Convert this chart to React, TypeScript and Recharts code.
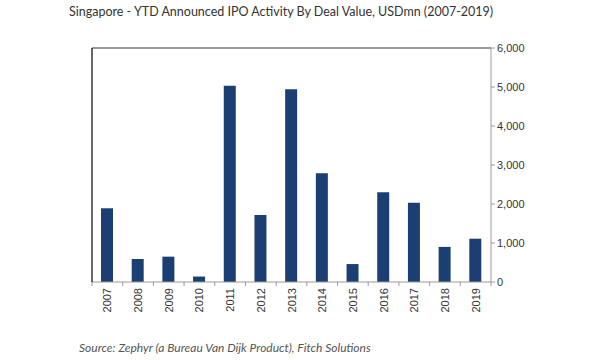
import React from "react";
import { BarChart, Bar, XAxis, YAxis, ReferenceLine } from "recharts";

const years = ["2007","2008","2009","2010","2011","2012","2013","2014","2015","2016","2017","2018","2019"];
const dealValues = [1890, 590, 650, 140, 5030, 1720, 4940, 2790, 460, 2300, 2030, 900, 1110];
const yTicks = [0, 1000, 2000, 3000, 4000, 5000, 6000];
const title = "Singapore - YTD Announced IPO Activity By Deal Value, USDmn (2007-2019)";
const source = "Source: Zephyr (a Bureau Van Dijk Product), Fitch Solutions";

const data = years.map((y, i) => ({ year: y, value: dealValues[i] }));

const XTick = (props: any) => {
  const { x, y, payload, index, visibleTicksCount } = props;
  const half = payload.offset || 15.35;
  const top = y - 8;
  return (
    <g>
      <line x1={x - half} x2={x - half} y1={top} y2={top + 4} stroke="#999" />
      {index === visibleTicksCount - 1 && (
        <line x1={x + half} x2={x + half} y1={top} y2={top + 4} stroke="#999" />
      )}
      <text
        x={x}
        y={top + 6}
        transform={`rotate(-90 ${x} ${top + 6})`}
        textAnchor="end"
        dominantBaseline="central"
        fontFamily="Liberation Sans, Arial, sans-serif"
        fontSize={11}
        fill="#333"
      >
        {payload.value}
      </text>
    </g>
  );
};

export default function App() {
  return (
    <div style={{ position: "absolute", left: 0, top: 0, width: 600, height: 360, background: "#fff" }}>
      <div
        style={{
          position: "absolute",
          left: 69,
          top: 4,
          fontFamily: "Lato, sans-serif",
          fontSize: 12.5,
          color: "#333",
          whiteSpace: "nowrap",
        }}
      >
        {title}
      </div>
      <BarChart
        width={600}
        height={360}
        data={data}
        margin={{ top: 48, right: 49, bottom: 38, left: 91 }}
        barCategoryGap={0}
      >
        <XAxis
          dataKey="year"
          interval={0}
          height={40}
          axisLine={{ stroke: "#999" }}
          tickLine={false}
          tick={<XTick />}
        />
        <YAxis
          yAxisId="r"
          orientation="right"
          domain={[0, 6000]}
          ticks={yTicks}
          width={60}
          axisLine={{ stroke: "#999" }}
          tickLine={{ stroke: "#999" }}
          tickSize={4}
          tickFormatter={(v: number) => v.toLocaleString("en-US")}
          tick={{ fontFamily: "Liberation Sans, Arial, sans-serif", fontSize: 11, fill: "#333" }}
        />
        <YAxis
          yAxisId="l"
          orientation="left"
          domain={[0, 6000]}
          width={1}
          tick={false}
          tickLine={false}
          axisLine={{ stroke: "#000", strokeWidth: 1.2 }}
        />
        <ReferenceLine yAxisId="r" y={6000} stroke="#777" strokeWidth={1.5} />
        <Bar yAxisId="r" dataKey="value" fill="#1b3f72" barSize={12} isAnimationActive={false} />
      </BarChart>
      <div
        style={{
          position: "absolute",
          left: 79,
          top: 340,
          fontFamily: "Lato, sans-serif",
          fontStyle: "italic",
          fontSize: 12,
          color: "#555",
          whiteSpace: "nowrap",
        }}
      >
        {source}
      </div>
    </div>
  );
}
